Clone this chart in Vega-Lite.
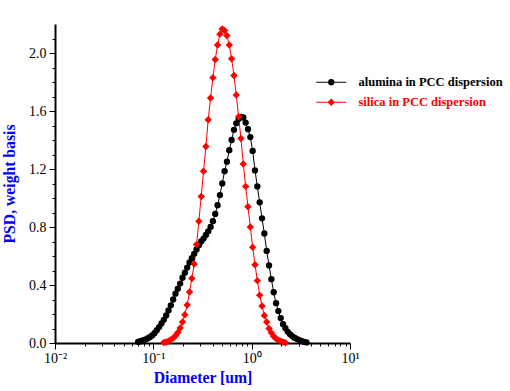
{
  "$schema": "https://vega.github.io/schema/vega-lite/v6.json",
  "width": 295,
  "height": 319,
  "autosize": "none",
  "padding": {"left": 55, "top": 24, "right": 160, "bottom": 48},
  "background": "white",
  "config": {"view": {"stroke": null}, "font": "Liberation Serif"},
  "datasets": {
    "psd": [
      {"series": "alumina in PCC dispersion", "d": 0.0700, "psd": 0.008},
      {"series": "alumina in PCC dispersion", "d": 0.0739, "psd": 0.012},
      {"series": "alumina in PCC dispersion", "d": 0.0781, "psd": 0.017},
      {"series": "alumina in PCC dispersion", "d": 0.0825, "psd": 0.023},
      {"series": "alumina in PCC dispersion", "d": 0.0871, "psd": 0.031},
      {"series": "alumina in PCC dispersion", "d": 0.0920, "psd": 0.040},
      {"series": "alumina in PCC dispersion", "d": 0.0972, "psd": 0.052},
      {"series": "alumina in PCC dispersion", "d": 0.1027, "psd": 0.068},
      {"series": "alumina in PCC dispersion", "d": 0.1084, "psd": 0.088},
      {"series": "alumina in PCC dispersion", "d": 0.1145, "psd": 0.110},
      {"series": "alumina in PCC dispersion", "d": 0.1210, "psd": 0.135},
      {"series": "alumina in PCC dispersion", "d": 0.1278, "psd": 0.160},
      {"series": "alumina in PCC dispersion", "d": 0.1350, "psd": 0.190},
      {"series": "alumina in PCC dispersion", "d": 0.1426, "psd": 0.225},
      {"series": "alumina in PCC dispersion", "d": 0.1506, "psd": 0.260},
      {"series": "alumina in PCC dispersion", "d": 0.1591, "psd": 0.300},
      {"series": "alumina in PCC dispersion", "d": 0.1680, "psd": 0.340},
      {"series": "alumina in PCC dispersion", "d": 0.1775, "psd": 0.375},
      {"series": "alumina in PCC dispersion", "d": 0.1875, "psd": 0.410},
      {"series": "alumina in PCC dispersion", "d": 0.1980, "psd": 0.450},
      {"series": "alumina in PCC dispersion", "d": 0.2092, "psd": 0.485},
      {"series": "alumina in PCC dispersion", "d": 0.2209, "psd": 0.520},
      {"series": "alumina in PCC dispersion", "d": 0.2334, "psd": 0.555},
      {"series": "alumina in PCC dispersion", "d": 0.2465, "psd": 0.585},
      {"series": "alumina in PCC dispersion", "d": 0.2604, "psd": 0.615},
      {"series": "alumina in PCC dispersion", "d": 0.2750, "psd": 0.645},
      {"series": "alumina in PCC dispersion", "d": 0.2905, "psd": 0.675},
      {"series": "alumina in PCC dispersion", "d": 0.3068, "psd": 0.700},
      {"series": "alumina in PCC dispersion", "d": 0.3241, "psd": 0.720},
      {"series": "alumina in PCC dispersion", "d": 0.3424, "psd": 0.745},
      {"series": "alumina in PCC dispersion", "d": 0.3616, "psd": 0.770},
      {"series": "alumina in PCC dispersion", "d": 0.3820, "psd": 0.800},
      {"series": "alumina in PCC dispersion", "d": 0.4035, "psd": 0.840},
      {"series": "alumina in PCC dispersion", "d": 0.4262, "psd": 0.890},
      {"series": "alumina in PCC dispersion", "d": 0.4502, "psd": 0.950},
      {"series": "alumina in PCC dispersion", "d": 0.4755, "psd": 1.020},
      {"series": "alumina in PCC dispersion", "d": 0.5023, "psd": 1.100},
      {"series": "alumina in PCC dispersion", "d": 0.5306, "psd": 1.185},
      {"series": "alumina in PCC dispersion", "d": 0.5604, "psd": 1.250},
      {"series": "alumina in PCC dispersion", "d": 0.5920, "psd": 1.330},
      {"series": "alumina in PCC dispersion", "d": 0.6253, "psd": 1.400},
      {"series": "alumina in PCC dispersion", "d": 0.6605, "psd": 1.470},
      {"series": "alumina in PCC dispersion", "d": 0.6977, "psd": 1.515},
      {"series": "alumina in PCC dispersion", "d": 0.7370, "psd": 1.545},
      {"series": "alumina in PCC dispersion", "d": 0.7784, "psd": 1.560},
      {"series": "alumina in PCC dispersion", "d": 0.8222, "psd": 1.555},
      {"series": "alumina in PCC dispersion", "d": 0.8685, "psd": 1.520},
      {"series": "alumina in PCC dispersion", "d": 0.9174, "psd": 1.475},
      {"series": "alumina in PCC dispersion", "d": 0.9690, "psd": 1.420},
      {"series": "alumina in PCC dispersion", "d": 1.0236, "psd": 1.325},
      {"series": "alumina in PCC dispersion", "d": 1.0812, "psd": 1.190},
      {"series": "alumina in PCC dispersion", "d": 1.1420, "psd": 1.080},
      {"series": "alumina in PCC dispersion", "d": 1.2063, "psd": 0.970},
      {"series": "alumina in PCC dispersion", "d": 1.2742, "psd": 0.860},
      {"series": "alumina in PCC dispersion", "d": 1.3459, "psd": 0.755},
      {"series": "alumina in PCC dispersion", "d": 1.4217, "psd": 0.635},
      {"series": "alumina in PCC dispersion", "d": 1.5017, "psd": 0.535},
      {"series": "alumina in PCC dispersion", "d": 1.5862, "psd": 0.440},
      {"series": "alumina in PCC dispersion", "d": 1.6755, "psd": 0.350},
      {"series": "alumina in PCC dispersion", "d": 1.7698, "psd": 0.275},
      {"series": "alumina in PCC dispersion", "d": 1.8694, "psd": 0.220},
      {"series": "alumina in PCC dispersion", "d": 1.9746, "psd": 0.172},
      {"series": "alumina in PCC dispersion", "d": 2.0857, "psd": 0.130},
      {"series": "alumina in PCC dispersion", "d": 2.2031, "psd": 0.102},
      {"series": "alumina in PCC dispersion", "d": 2.3271, "psd": 0.077},
      {"series": "alumina in PCC dispersion", "d": 2.4581, "psd": 0.060},
      {"series": "alumina in PCC dispersion", "d": 2.5964, "psd": 0.046},
      {"series": "alumina in PCC dispersion", "d": 2.7425, "psd": 0.035},
      {"series": "alumina in PCC dispersion", "d": 2.8969, "psd": 0.027},
      {"series": "alumina in PCC dispersion", "d": 3.0599, "psd": 0.020},
      {"series": "alumina in PCC dispersion", "d": 3.2321, "psd": 0.013},
      {"series": "alumina in PCC dispersion", "d": 3.4140, "psd": 0.008},
      {"series": "alumina in PCC dispersion", "d": 3.6061, "psd": 0.004},
      {"series": "silica in PCC dispersion", "d": 0.1278, "psd": 0.003},
      {"series": "silica in PCC dispersion", "d": 0.1350, "psd": 0.007},
      {"series": "silica in PCC dispersion", "d": 0.1426, "psd": 0.013},
      {"series": "silica in PCC dispersion", "d": 0.1506, "psd": 0.022},
      {"series": "silica in PCC dispersion", "d": 0.1591, "psd": 0.035},
      {"series": "silica in PCC dispersion", "d": 0.1680, "psd": 0.050},
      {"series": "silica in PCC dispersion", "d": 0.1775, "psd": 0.072},
      {"series": "silica in PCC dispersion", "d": 0.1875, "psd": 0.104},
      {"series": "silica in PCC dispersion", "d": 0.1980, "psd": 0.145},
      {"series": "silica in PCC dispersion", "d": 0.2092, "psd": 0.195},
      {"series": "silica in PCC dispersion", "d": 0.2209, "psd": 0.262},
      {"series": "silica in PCC dispersion", "d": 0.2334, "psd": 0.352},
      {"series": "silica in PCC dispersion", "d": 0.2465, "psd": 0.445},
      {"series": "silica in PCC dispersion", "d": 0.2604, "psd": 0.545},
      {"series": "silica in PCC dispersion", "d": 0.2750, "psd": 0.680},
      {"series": "silica in PCC dispersion", "d": 0.2905, "psd": 0.840},
      {"series": "silica in PCC dispersion", "d": 0.3068, "psd": 1.010},
      {"series": "silica in PCC dispersion", "d": 0.3241, "psd": 1.185},
      {"series": "silica in PCC dispersion", "d": 0.3424, "psd": 1.355},
      {"series": "silica in PCC dispersion", "d": 0.3616, "psd": 1.540},
      {"series": "silica in PCC dispersion", "d": 0.3820, "psd": 1.690},
      {"series": "silica in PCC dispersion", "d": 0.4035, "psd": 1.830},
      {"series": "silica in PCC dispersion", "d": 0.4262, "psd": 1.955},
      {"series": "silica in PCC dispersion", "d": 0.4502, "psd": 2.055},
      {"series": "silica in PCC dispersion", "d": 0.4755, "psd": 2.130},
      {"series": "silica in PCC dispersion", "d": 0.5023, "psd": 2.165},
      {"series": "silica in PCC dispersion", "d": 0.5306, "psd": 2.155},
      {"series": "silica in PCC dispersion", "d": 0.5604, "psd": 2.120},
      {"series": "silica in PCC dispersion", "d": 0.5920, "psd": 2.055},
      {"series": "silica in PCC dispersion", "d": 0.6253, "psd": 1.960},
      {"series": "silica in PCC dispersion", "d": 0.6605, "psd": 1.845},
      {"series": "silica in PCC dispersion", "d": 0.6977, "psd": 1.710},
      {"series": "silica in PCC dispersion", "d": 0.7370, "psd": 1.560},
      {"series": "silica in PCC dispersion", "d": 0.7784, "psd": 1.410},
      {"series": "silica in PCC dispersion", "d": 0.8222, "psd": 1.235},
      {"series": "silica in PCC dispersion", "d": 0.8685, "psd": 1.080},
      {"series": "silica in PCC dispersion", "d": 0.9174, "psd": 0.940},
      {"series": "silica in PCC dispersion", "d": 0.9690, "psd": 0.800},
      {"series": "silica in PCC dispersion", "d": 1.0236, "psd": 0.660},
      {"series": "silica in PCC dispersion", "d": 1.0812, "psd": 0.540},
      {"series": "silica in PCC dispersion", "d": 1.1420, "psd": 0.430},
      {"series": "silica in PCC dispersion", "d": 1.2063, "psd": 0.330},
      {"series": "silica in PCC dispersion", "d": 1.2742, "psd": 0.255},
      {"series": "silica in PCC dispersion", "d": 1.3459, "psd": 0.190},
      {"series": "silica in PCC dispersion", "d": 1.4217, "psd": 0.145},
      {"series": "silica in PCC dispersion", "d": 1.5017, "psd": 0.100},
      {"series": "silica in PCC dispersion", "d": 1.5862, "psd": 0.070},
      {"series": "silica in PCC dispersion", "d": 1.6755, "psd": 0.046},
      {"series": "silica in PCC dispersion", "d": 1.7698, "psd": 0.030},
      {"series": "silica in PCC dispersion", "d": 1.8694, "psd": 0.020},
      {"series": "silica in PCC dispersion", "d": 1.9746, "psd": 0.013},
      {"series": "silica in PCC dispersion", "d": 2.0857, "psd": 0.007},
      {"series": "silica in PCC dispersion", "d": 2.2031, "psd": 0.002}
    ]
  },
  "data": {"name": "psd"},
  "resolve": {
    "axis": {"x": "independent", "y": "independent"},
    "scale": {"color": "independent", "shape": "independent", "size": "independent"}
  },
  "layer": [
    {
      "mark": {"type": "line", "strokeWidth": 1},
      "encoding": {
        "x": {
          "field": "d", "type": "quantitative",
          "scale": {"type": "log", "domain": [0.01, 10], "nice": false},
          "axis": {
            "orient": "bottom", "values": [0.01, 0.1, 1, 10],
            "labelExpr": "datum.value < 0.05 ? '10⁻²' : datum.value < 0.5 ? '10⁻¹' : datum.value < 5 ? '10⁰' : '10¹'",
            "labelFlush": false,
            "tickSize": 6, "tickColor": "black", "tickWidth": 1,
            "domainColor": "black", "domainWidth": 2,
            "labelFont": "Liberation Serif", "labelFontSize": 14, "labelColor": "black", "labelPadding": 2,
            "grid": false,
            "title": "Diameter [um]", "titleFont": "Liberation Serif", "titleFontSize": 15.7,
            "titleFontWeight": "bold", "titleColor": "#0000ff", "titlePadding": 5
          }
        },
        "y": {
          "field": "psd", "type": "quantitative",
          "scale": {"domain": [0, 2.2], "nice": false},
          "axis": {
            "orient": "left", "values": [0, 0.4, 0.8, 1.2, 1.6, 2.0], "format": ".1f",
            "labelFlush": false,
            "tickSize": 6, "tickColor": "black", "tickWidth": 1,
            "domainColor": "black", "domainWidth": 2,
            "labelFont": "Liberation Serif", "labelFontSize": 14, "labelColor": "black", "labelPadding": 3,
            "grid": false,
            "title": "PSD, weight basis", "titleFont": "Liberation Serif", "titleFontSize": 15.7,
            "titleFontWeight": "bold", "titleColor": "#0000ff", "titlePadding": 11
          }
        },
        "color": {
          "field": "series", "type": "nominal",
          "scale": {"domain": ["alumina in PCC dispersion", "silica in PCC dispersion"], "range": ["#000000", "#ff0000"]},
          "legend": {
            "orient": "none", "legendX": 270, "legendY": 52, "title": null,
            "symbolType": "M-3.16,0H3.16", "symbolSize": 90, "symbolStrokeWidth": 1,
            "labelFont": "Liberation Serif", "labelFontSize": 12.5, "labelFontWeight": "bold",
            "labelColor": {"expr": "datum.value == 'silica in PCC dispersion' ? '#ff0000' : '#000000'"},
            "labelOffset": 21, "rowPadding": 7, "padding": 0, "labelLimit": 300
          }
        }
      }
    },
    {
      "mark": {"type": "point", "filled": true, "opacity": 1},
      "encoding": {
        "x": {
          "field": "d", "type": "quantitative",
          "axis": {
            "orient": "bottom",
            "values": [0.02, 0.03, 0.04, 0.05, 0.06, 0.07, 0.08, 0.09, 0.2, 0.3, 0.4, 0.5, 0.6, 0.7, 0.8, 0.9, 2, 3, 4, 5, 6, 7, 8, 9],
            "labels": false, "tickSize": 3, "tickColor": "black", "domain": false, "grid": false, "title": null
          }
        },
        "y": {
          "field": "psd", "type": "quantitative",
          "axis": {
            "orient": "left",
            "values": [0.1, 0.2, 0.3, 0.5, 0.6, 0.7, 0.9, 1.0, 1.1, 1.3, 1.4, 1.5, 1.7, 1.8, 1.9, 2.1],
            "labels": false, "tickSize": 3, "tickColor": "black", "domain": false, "grid": false, "title": null
          }
        },
        "color": {
          "field": "series", "type": "nominal",
          "scale": {"range": ["#000000", "#ff0000"]},
          "legend": {
            "orient": "none", "legendX": 270, "legendY": 52, "title": null,
            "symbolSize": 90, "symbolStrokeWidth": 0,
            "labelFont": "Liberation Serif", "labelFontSize": 12.5, "labelFontWeight": "bold",
            "labelOpacity": 0,
            "labelOffset": 21, "rowPadding": 7, "padding": 0, "labelLimit": 300,
            "encode": {"symbols": {"update": {"size": {"value": 100}}}}
          }
        },
        "size": {"field": "series", "type": "ordinal", "scale": {"range": [40, 55]}, "legend": null},
        "shape": {
          "field": "series", "type": "nominal",
          "scale": {"range": ["circle", "diamond"]},
          "legend": {
            "orient": "none", "legendX": 270, "legendY": 52, "title": null,
            "symbolSize": 90, "symbolStrokeWidth": 0,
            "labelFont": "Liberation Serif", "labelFontSize": 12.5, "labelFontWeight": "bold",
            "labelOpacity": 0,
            "labelOffset": 21, "rowPadding": 7, "padding": 0, "labelLimit": 300,
            "encode": {"symbols": {"update": {"size": {"value": 100}}}}
          }
        }
      }
    }
  ]
}
